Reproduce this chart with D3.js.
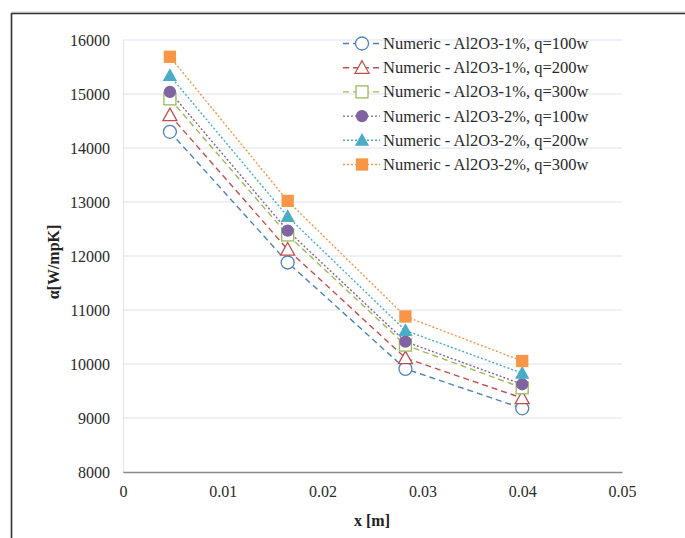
<!DOCTYPE html>
<html><head><meta charset="utf-8">
<script src="https://cdn.jsdelivr.net/npm/d3@7"></script>
<style>body{margin:0;background:#fff;}svg{display:block;font-family:"Liberation Serif","Times New Roman",serif;}</style>
</head><body>
<script>
const xValues = [0.0047, 0.0165, 0.0283, 0.0400];
const seriesNames = [
  "Numeric - Al2O3-1%, q=100w",
  "Numeric - Al2O3-1%, q=200w",
  "Numeric - Al2O3-1%, q=300w",
  "Numeric - Al2O3-2%, q=100w",
  "Numeric - Al2O3-2%, q=200w",
  "Numeric - Al2O3-2%, q=300w"
];
const s1 = [14300, 11880, 9910, 9180];
const s2 = [14610, 12120, 10110, 9370];
const s3 = [14910, 12390, 10350, 9560];
const s4 = [15040, 12470, 10415, 9625];
const s5 = [15340, 12730, 10620, 9830];
const s6 = [15690, 13020, 10880, 10055];
const seriesValues = [s1, s2, s3, s4, s5, s6];
const xTicks = [0, 0.01, 0.02, 0.03, 0.04, 0.05];
const yTicks = [8000, 9000, 10000, 11000, 12000, 13000, 14000, 15000, 16000];

const colors = ["#4F81BD", "#C0504D", "#9BBB59", "#8064A2", "#4BACC6", "#F79646"];
const markers = ["circle", "triangle", "square", "circle", "triangle", "square"];
const filled = [false, false, false, true, true, true];
const dashes = ["6,4", "6,4", "6,4", "2,2", "2,2", "2,2"];

const W = 685, H = 538;
const svg = d3.select("body").append("svg").attr("width", W).attr("height", H);

// frame
svg.append("line").attr("x1", 11.5).attr("x2", W).attr("y1", 12).attr("y2", 12).attr("stroke", "#ccc").attr("stroke-width", 1);
svg.append("line").attr("x1", 11.5).attr("x2", W).attr("y1", 13.5).attr("y2", 13.5).attr("stroke", "#333").attr("stroke-width", 1.6);
svg.append("line").attr("x1", 11.5).attr("x2", 11.5).attr("y1", 13).attr("y2", H).attr("stroke", "#333").attr("stroke-width", 1.6);

const x = d3.scaleLinear().domain([0, 0.05]).range([123, 622]);
const y = d3.scaleLinear().domain([8000, 16000]).range([472, 40]);

// gridlines
svg.append("g").selectAll("line").data(yTicks.filter(t => t > 8000)).join("line")
  .attr("x1", x(0)).attr("x2", x(0.05))
  .attr("y1", d => y(d)).attr("y2", d => y(d))
  .attr("stroke", "#E1E3EF").attr("stroke-width", 1);

// y axis
const yAxis = svg.append("g").attr("transform", `translate(${x(0)},0)`)
  .call(d3.axisLeft(y).tickValues(yTicks).tickSize(0).tickPadding(13).tickFormat(d3.format("d")));
yAxis.select(".domain").attr("stroke", "#C8C8C8").attr("stroke-dasharray", "1,1");
yAxis.selectAll("text").attr("font-size", 16).attr("fill", "#2a2a2a").attr("font-family", "Liberation Serif");

// x axis
const xAxis = svg.append("g").attr("transform", `translate(0,${y(8000)})`)
  .call(d3.axisBottom(x).tickValues(xTicks).tickSize(0).tickPadding(14).tickFormat(d => d === 0 ? "0" : d3.format(".2f")(d)));
xAxis.select(".domain").attr("stroke", "#8a8a8a").attr("stroke-width", 1.5);
xAxis.selectAll("text").attr("font-size", 16).attr("fill", "#2a2a2a").attr("font-family", "Liberation Serif");

// titles
svg.append("text").attr("x", 372).attr("y", 526).attr("text-anchor", "middle")
  .attr("font-weight", "bold").attr("font-size", 16).attr("fill", "#222").text("x [m]");
svg.append("text").attr("transform", "translate(59,262) rotate(-90)").attr("text-anchor", "middle")
  .attr("font-weight", "bold").attr("font-size", 16).attr("fill", "#222").text("α[W/mpK]");

function drawMarker(g, type, isFilled, color, cx, cy) {
  const fill = isFilled ? color : "#fff";
  if (type === "circle") {
    g.append("circle").attr("cx", cx).attr("cy", cy).attr("r", isFilled ? 5.5 : 6.5)
      .attr("fill", fill).attr("stroke", color).attr("stroke-width", 1.3);
  } else if (type === "triangle") {
    const s = isFilled ? 6 : 7;
    g.append("path").attr("d", `M${cx},${cy - s} L${cx + s},${cy + s * 0.8} L${cx - s},${cy + s * 0.8} Z`)
      .attr("fill", fill).attr("stroke", color).attr("stroke-width", 1.3);
  } else {
    const s = isFilled ? 5.5 : 6;
    g.append("rect").attr("x", cx - s).attr("y", cy - s).attr("width", 2 * s).attr("height", 2 * s)
      .attr("fill", fill).attr("stroke", color).attr("stroke-width", 1.3);
  }
}

const line = d3.line().x(d => x(d[0])).y(d => y(d[1]));
seriesValues.forEach((vals, i) => {
  const pts = xValues.map((xv, j) => [xv, vals[j]]);
  svg.append("path").datum(pts).attr("d", line).attr("fill", "none")
    .attr("stroke", colors[i]).attr("stroke-width", 1.4).attr("stroke-dasharray", dashes[i]);
});
seriesValues.forEach((vals, i) => {
  const g = svg.append("g");
  xValues.forEach((xv, j) => drawMarker(g, markers[i], filled[i], colors[i], x(xv), y(vals[j])));
});

// legend
const lg = svg.append("g");
seriesNames.forEach((name, i) => {
  const ly = 43.5 + i * 24.2;
  lg.append("line").attr("x1", 343).attr("x2", 380).attr("y1", ly).attr("y2", ly)
    .attr("stroke", colors[i]).attr("stroke-width", 1.4).attr("stroke-dasharray", dashes[i]);
  drawMarker(lg, markers[i], filled[i], colors[i], 362, ly);
  lg.append("text").attr("x", 383).attr("y", ly + 5.5).attr("font-size", 16.5).attr("fill", "#2a2a2a").text(name);
});
</script>
</body></html>
